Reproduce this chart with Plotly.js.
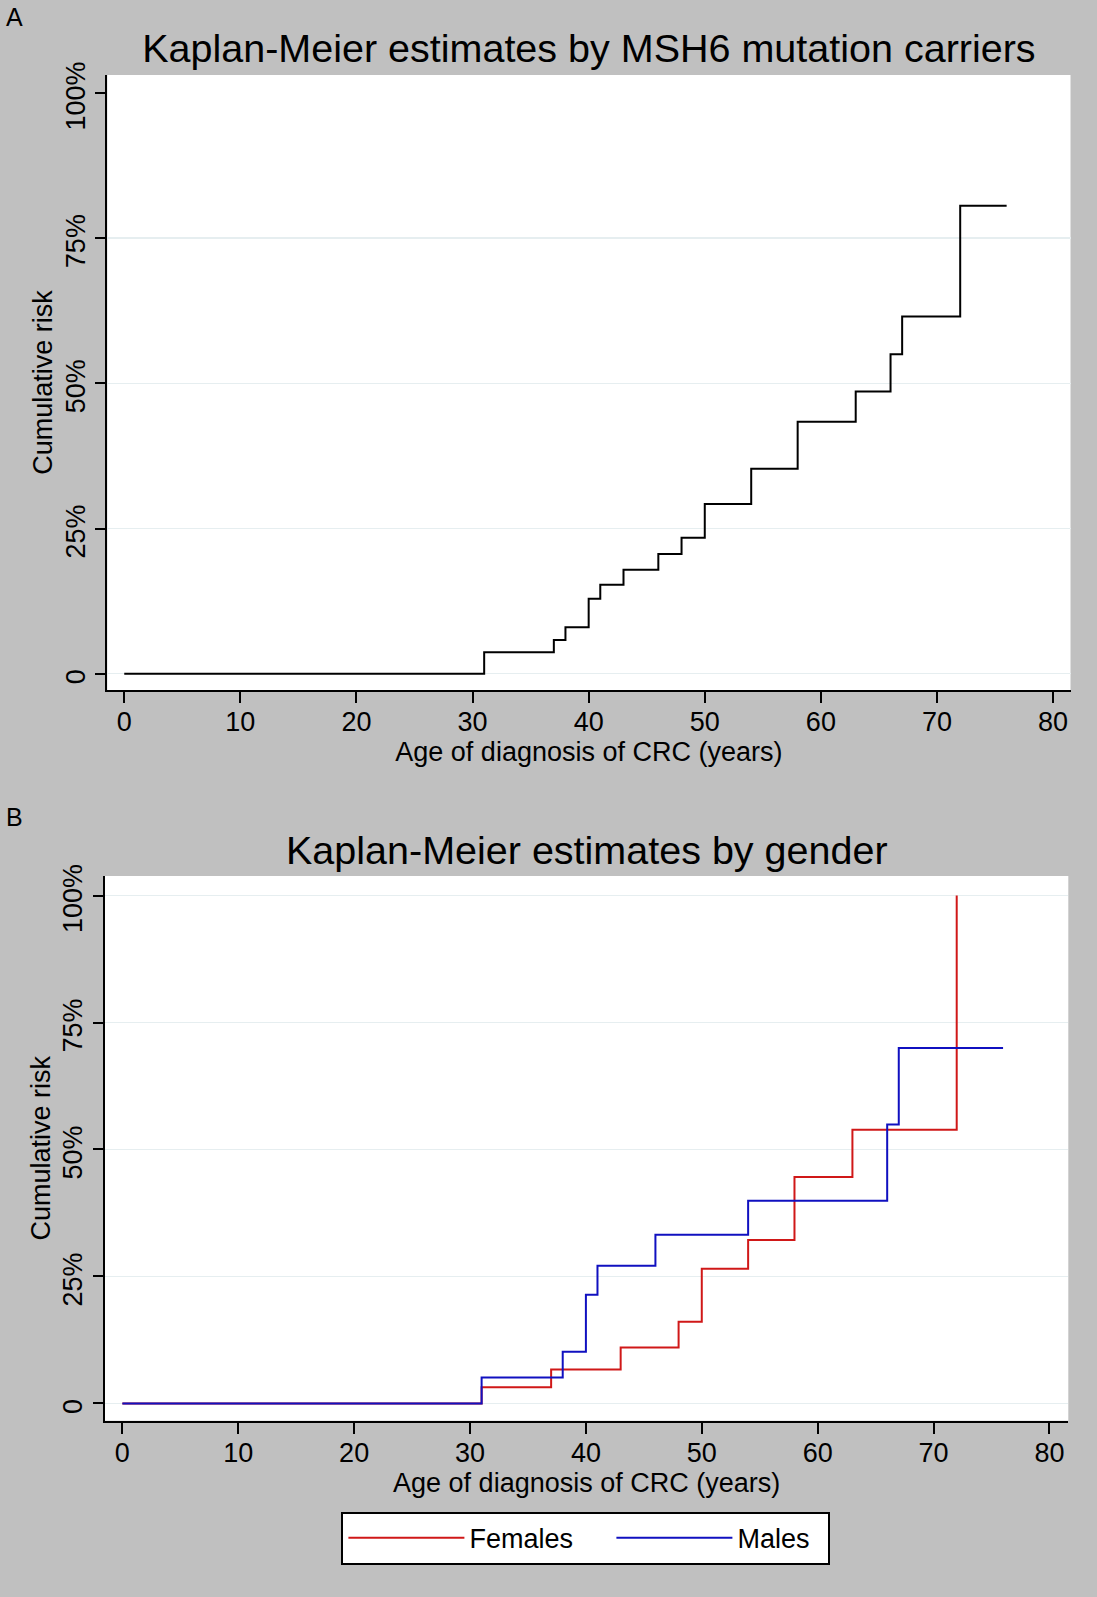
<!DOCTYPE html>
<html>
<head>
<meta charset="utf-8">
<script src="https://cdn.plot.ly/plotly-3.0.1.min.js"></script>
<style>
html,body{margin:0;padding:0;background:#c0c0c0;}
#chart{width:1097px;height:1597px;}
</style>
</head>
<body>
<div id="chart"></div>
<script>
// ---- Data ----
const titleA = 'Kaplan-Meier estimates by MSH6 mutation carriers';
const titleB = 'Kaplan-Meier estimates by gender';
const xTitle = 'Age of diagnosis of CRC (years)';
const yTitle = 'Cumulative risk';

// Panel A: all MSH6 mutation carriers (age, cumulative risk %)
const ageAll  = [0, 31, 37, 38, 40, 41, 43, 46, 48, 50, 54, 58, 63, 66, 67, 72, 76];
const riskAll = [0, 3.7, 5.8, 8.0, 12.9, 15.3, 17.9, 20.6, 23.4, 29.2, 35.3, 43.4, 48.6, 55.0, 61.5, 80.6, 80.6];

// Panel B: by gender
const ageFemales  = [0, 31, 37, 43, 48, 50, 54, 58, 63, 72];
const riskFemales = [0, 3.2, 6.7, 11.0, 16.1, 26.5, 32.2, 44.6, 53.9, 100];
const ageMales    = [0, 31, 38, 40, 41, 46, 54, 66, 67, 76];
const riskMales   = [0, 5.1, 10.2, 21.4, 27.1, 33.2, 39.9, 54.9, 70.0, 70.0];

const xTickVals = [0, 10, 20, 30, 40, 50, 60, 70, 80];
const yTickVals = [0, 25, 50, 75, 100];
const yTickText = ['0', '25%', '50%', '75%', '100%'];
const gridValsA = [0, 25, 50, 75];

// ---- Layout helpers ----
const W = 1097, H = 1597;
const FONT = 'Liberation Sans, Arial, Helvetica, sans-serif';
const px = v => v / W;
const py = v => 1 - v / H;

const tickFont = {family: FONT, size: 27, color: '#000'};
const titleFont = {family: FONT, size: 27, color: '#000'};
const gridColor = '#e6eef0';

function xAxis(dom, range, anchor) {
  return {
    domain: dom, range: range, anchor: anchor,
    showline: true, linecolor: '#000', linewidth: 2, mirror: false,
    ticks: 'outside', ticklen: 11, tickwidth: 2, tickcolor: '#000',
    tickmode: 'array', tickvals: xTickVals, ticktext: xTickVals.map(String),
    tickfont: tickFont, ticklabelstandoff: -4,
    showgrid: false, zeroline: false, fixedrange: true,
    title: {text: xTitle, font: titleFont, standoff: 0}
  };
}

function yLabelAxis(extra) {
  return Object.assign({
    showline: true, linecolor: '#000', linewidth: 2,
    ticks: 'outside', ticklen: 10, tickwidth: 2, tickcolor: '#000',
    tickmode: 'array', tickvals: yTickVals, ticktext: yTickText,
    tickangle: -90, ticklabelshift: 7,
    tickfont: tickFont, zeroline: false, fixedrange: true,
    title: {text: yTitle, font: titleFont, standoff: 0}
  }, extra);
}

const data = [
  {x: ageAll, y: riskAll, xaxis: 'x', yaxis: 'y', type: 'scatter', mode: 'lines',
   line: {shape: 'hv', color: '#000', width: 2}, showlegend: false, name: 'MSH6 carriers'},
  // empty trace so the labelled overlay axis of panel A is drawn
  {x: [null], y: [null], xaxis: 'x', yaxis: 'y3', type: 'scatter', mode: 'lines',
   showlegend: false, hoverinfo: 'skip'},
  {x: ageFemales, y: riskFemales, xaxis: 'x2', yaxis: 'y2', type: 'scatter', mode: 'lines',
   line: {shape: 'hv', color: '#d01818', width: 2}, name: 'Females', legendwidth: 137},
  {x: ageMales, y: riskMales, xaxis: 'x2', yaxis: 'y2', type: 'scatter', mode: 'lines',
   line: {shape: 'hv', color: '#1010c0', width: 2}, name: 'Males', legendwidth: 86}
];

const rangeA = [-2.81, 103.1];
const rangeB = [-3.39, 103.84];

const layout = {
  width: W, height: H,
  paper_bgcolor: '#c0c0c0', plot_bgcolor: '#ffffff',
  margin: {l: 0, r: 0, t: 0, b: 0, pad: 0},
  font: {family: FONT, color: '#000'},
  title: {text: titleA, font: {family: FONT, size: 39.5, color: '#000'},
          x: px(588.9), xanchor: 'center', y: py(48.5), yanchor: 'middle'},
  xaxis: xAxis([px(107.3), px(1070.5)], [-1.46, 81.5], 'y'),
  // grid-only axis for panel A (no 100% gridline in the reference)
  yaxis: {
    domain: [py(690), py(75)], range: rangeA, anchor: 'x',
    showline: false, ticks: '', showticklabels: false,
    tickmode: 'array', tickvals: gridValsA,
    showgrid: true, gridcolor: gridColor, gridwidth: 1.5, zeroline: false, fixedrange: true
  },
  yaxis3: yLabelAxis({overlaying: 'y', anchor: 'x', side: 'left', range: rangeA, showgrid: false}),
  xaxis2: xAxis([px(105), px(1068.3)], [-1.50, 81.63], 'y2'),
  yaxis2: yLabelAxis({domain: [py(1420.7), py(876)], range: rangeB, anchor: 'x2',
                      showgrid: true, gridcolor: gridColor, gridwidth: 1.5}),
  showlegend: true,
  legend: {
    orientation: 'h', x: px(341.4), y: py(1511.7), xanchor: 'left', yanchor: 'top',
    bgcolor: '#ffffff', bordercolor: '#000', borderwidth: 2,
    font: {family: FONT, size: 27, color: '#000'},
    itemwidth: 116, traceorder: 'normal'
  },
  annotations: [
    {text: titleB, xref: 'paper', yref: 'paper', x: px(586.7), y: py(850),
     xanchor: 'center', yanchor: 'middle', showarrow: false,
     font: {family: FONT, size: 39.5, color: '#000'}},
    {text: 'A', xref: 'paper', yref: 'paper', x: px(4), y: py(17),
     xanchor: 'left', yanchor: 'middle', showarrow: false,
     font: {family: FONT, size: 25, color: '#000'}},
    {text: 'B', xref: 'paper', yref: 'paper', x: px(4), y: py(817),
     xanchor: 'left', yanchor: 'middle', showarrow: false,
     font: {family: FONT, size: 25, color: '#000'}}
  ]
};

Plotly.newPlot('chart', data, layout, {staticPlot: true, displayModeBar: false});
</script>
</body>
</html>
